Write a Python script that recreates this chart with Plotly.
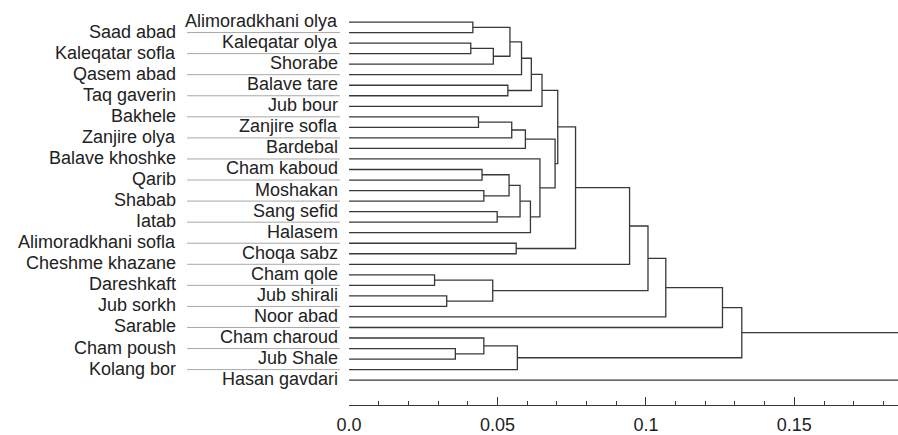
import plotly.graph_objects as go

# ---- data ----
leaves = [
    "Alimoradkhani olya", "Saad abad", "Kaleqatar olya", "Kaleqatar sofla", "Shorabe",
    "Qasem abad", "Balave tare", "Taq gaverin", "Jub bour", "Bakhele", "Zanjire sofla",
    "Zanjire olya", "Bardebal", "Balave khoshke", "Cham kaboud", "Qarib", "Moshakan",
    "Shabab", "Sang sefid", "Iatab", "Halasem", "Alimoradkhani sofla", "Choqa sabz",
    "Cheshme khazane", "Cham qole", "Dareshkaft", "Jub shirali", "Jub sorkh", "Noor abad",
    "Sarable", "Cham charoud", "Cham poush", "Jub Shale", "Kolang bor", "Hasan gavdari",
]
# label column: R = right column (next to tree), L = left column (with leader line)
label_side = ["R", "L"] * 17 + ["R"]

merge_ids = [f"m{i}" for i in range(1, 35)]
merge_left = [
    "Alimoradkhani olya", "Kaleqatar olya", "m2", "m1", "m4", "Balave tare", "m5", "m7",
    "Bakhele", "m9", "m10", "Cham kaboud", "Moshakan", "m12", "Sang sefid", "m14", "m16",
    "Balave khoshke", "m11", "m8", "Alimoradkhani sofla", "m20", "m22", "Cham qole",
    "Jub shirali", "m24", "m23", "m27", "m28", "Cham poush", "Cham charoud", "m31", "m29", "m33",
]
merge_right = [
    "Saad abad", "Kaleqatar sofla", "Shorabe", "m3", "Qasem abad", "Taq gaverin", "m6",
    "Jub bour", "Zanjire sofla", "Zanjire olya", "Bardebal", "Qarib", "Shabab", "m13",
    "Iatab", "m15", "Halasem", "m17", "m18", "m19", "Choqa sabz", "m21", "Cheshme khazane",
    "Dareshkaft", "Jub sorkh", "m25", "m26", "Noor abad", "Sarable", "Jub Shale", "m30",
    "Kolang bor", "m32", "Hasan gavdari",
]
merge_height = [
    0.0417, 0.0410, 0.0486, 0.0542, 0.0581, 0.0535, 0.0614, 0.0650,
    0.0436, 0.0548, 0.0594, 0.0448, 0.0454, 0.0539, 0.0499, 0.0576, 0.0611,
    0.0643, 0.0694, 0.0703, 0.0563, 0.0763, 0.0945, 0.0288,
    0.0329, 0.0484, 0.1007, 0.1067, 0.1258, 0.0358, 0.0454, 0.0567, 0.1323, 0.2100,
]

major_ticks = [0.0, 0.05, 0.1, 0.15]
major_labels = ["0.0", "0.05", "0.1", "0.15"]

# ---- layout constants (pixels) ----
W, H = 898, 435
tree_left = 341
px_per_unit = 3012.0
top_leaf_px = 22.7
leaf_step_px = 10.853
axis_px = 417.3

# ---- build tree coordinates ----
node_x = {name: 0.0 for name in leaves}
node_y = {name: float(i) for i, name in enumerate(leaves)}
xs, ys = [], []
for mid, a, b, h in zip(merge_ids, merge_left, merge_right, merge_height):
    xa, ya, xb, yb = node_x[a], node_y[a], node_x[b], node_y[b]
    xs += [xa, h, h, xb, None]
    ys += [ya, ya, yb, yb, None]
    node_x[mid] = h
    node_y[mid] = (ya + yb) / 2

line_color = "#383838"
text_color = "#222222"
font_family = "Liberation Sans, Arial, sans-serif"

fig = go.Figure()
fig.add_trace(go.Scatter(
    x=xs, y=ys, mode="lines", xaxis="x", yaxis="y",
    line=dict(color=line_color, width=1.3), hoverinfo="skip", showlegend=False,
))

# leader lines for left-column labels (label area axis in pixel units)
lx, ly = [], []
for i, side in enumerate(label_side):
    if side == "L":
        lx += [176.7, 331.7, None]
        ly += [i, i, None]
fig.add_trace(go.Scatter(
    x=lx, y=ly, mode="lines", xaxis="x2", yaxis="y",
    line=dict(color="#a8a8a8", width=1), hoverinfo="skip", showlegend=False,
))

annotations = []
for i, (name, side) in enumerate(zip(leaves, label_side)):
    annotations.append(dict(
        x=332 if side == "R" else 167, y=i, xref="x2", yref="y",
        text=name, showarrow=False, xanchor="right", yanchor="middle", yshift=1,
        font=dict(size=18, color=text_color, family=font_family),
    ))

y_top = -top_leaf_px / leaf_step_px
y_bottom = y_top + axis_px / leaf_step_px
dom_left = tree_left / W

fig.update_layout(
    width=W, height=H,
    margin=dict(l=0, r=0, t=0, b=H - axis_px),
    paper_bgcolor="white", plot_bgcolor="white",
    font=dict(family=font_family, size=18, color=text_color),
    annotations=annotations,
    xaxis=dict(
        domain=[dom_left, 1], range=[0, (W - tree_left) / px_per_unit],
        showgrid=False, zeroline=False, showline=True, linecolor=line_color, linewidth=1,
        ticks="inside", ticklen=8, tickcolor=line_color, tickwidth=1,
        tickmode="array", tickvals=major_ticks, ticktext=major_labels,
        tickfont=dict(size=18, color=text_color, family=font_family),
        ticklabelstandoff=3,
        minor=dict(tickmode="linear", tick0=0, dtick=0.01, ticks="inside",
                   ticklen=4, tickcolor=line_color, tickwidth=1),
        fixedrange=True,
    ),
    xaxis2=dict(
        domain=[0, dom_left], range=[0, tree_left], visible=False, fixedrange=True,
    ),
    yaxis=dict(range=[y_bottom, y_top], visible=False, fixedrange=True),
)

fig.write_html(
    "out.html",
    config={"displayModeBar": False},
    post_script="document.body.style.margin='0';"
                "document.documentElement.style.overflow='hidden';"
                "document.body.style.overflow='hidden';",
)
